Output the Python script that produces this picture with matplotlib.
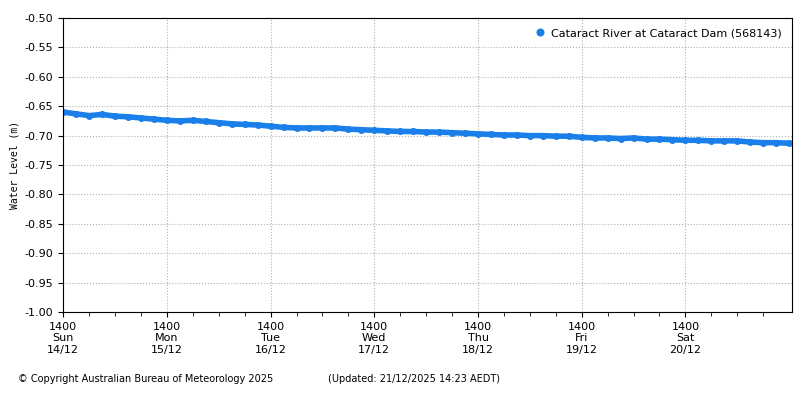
import matplotlib
matplotlib.use("Agg")
import matplotlib.pyplot as plt
import matplotlib.dates as mdates
import pandas as pd

# water level readings every 3 hours from Sun 14/12 14:00
levels = [-0.660, -0.663, -0.666, -0.664, -0.667, -0.668, -0.670, -0.672,
          -0.674, -0.675, -0.674, -0.676, -0.678, -0.680, -0.681, -0.682,
          -0.684, -0.686, -0.687, -0.687, -0.687, -0.687, -0.689, -0.690,
          -0.691, -0.692, -0.693, -0.693, -0.694, -0.694, -0.695, -0.696,
          -0.697, -0.698, -0.699, -0.699, -0.700, -0.700, -0.701, -0.701,
          -0.703, -0.704, -0.704, -0.705, -0.704, -0.706, -0.706, -0.707,
          -0.708, -0.708, -0.709, -0.709, -0.709, -0.711, -0.712, -0.712,
          -0.713, -0.714]
times = pd.date_range("2025-12-14 14:00", periods=len(levels), freq="3h")

tick_times = pd.date_range("2025-12-14 14:00", periods=7, freq="1D")
tick_labels = [f"1400\n{t.strftime('%a')}\n{t.strftime('%d/%m')}" for t in tick_times]

fig = plt.figure(figsize=(8, 4), dpi=100)
ax = fig.add_axes([0.079, 0.22, 0.911, 0.735])
ax.plot(times, levels, color="#1a7fe8", lw=4, solid_capstyle="round",
        marker="o", ms=4, label="Cataract River at Cataract Dam (568143)")

ax.set_ylim(-1.0, -0.5)
ax.set_yticks([-1.0 + 0.05 * i for i in range(11)])
ax.set_yticklabels([f"{-1.0 + 0.05 * i:.2f}" for i in range(11)], fontsize=8)
ax.set_xlim(pd.Timestamp("2025-12-14 14:00"), pd.Timestamp("2025-12-21 14:40"))
ax.set_xticks(tick_times)
ax.set_xticklabels(tick_labels, fontsize=8)
ax.xaxis.set_minor_locator(mdates.HourLocator(byhour=[2, 8, 20]))
ax.tick_params(which="minor", length=3)
ax.grid(True, ls=":", color="#b0b0b0", lw=0.8)
ax.set_ylabel("Water Level (m)", fontsize=7, family="DejaVu Sans Mono")

leg = ax.legend(loc="upper right", fontsize=8, frameon=False, handlelength=0.5,
                markerscale=1.2)
for h in leg.legend_handles:
    h.set_linestyle("")

fig.text(0.022, 0.045, "© Copyright Australian Bureau of Meteorology 2025", fontsize=7)
fig.text(0.41, 0.045, "(Updated: 21/12/2025 14:23 AEDT)", fontsize=7)

fig.savefig("out.png", dpi=100)
